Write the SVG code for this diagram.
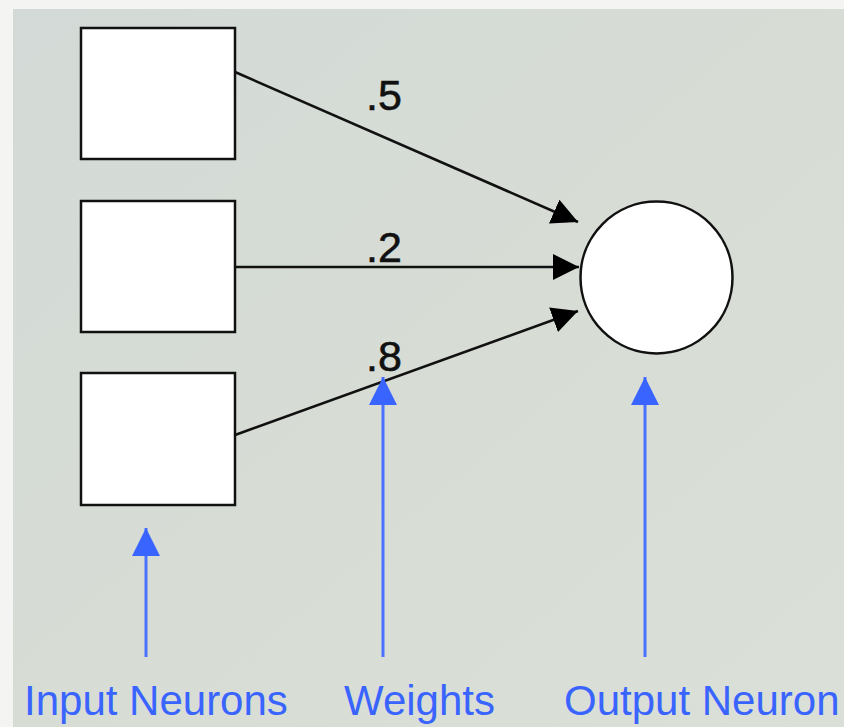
<svg xmlns="http://www.w3.org/2000/svg" width="844" height="727" viewBox="0 0 844 727">
  <defs>
    <linearGradient id="bg" x1="0" y1="0" x2="1" y2="1">
      <stop offset="0" stop-color="#d3d9d6"/>
      <stop offset="0.5" stop-color="#d7ddd5"/>
      <stop offset="1" stop-color="#dadfd8"/>
    </linearGradient>
    <marker id="head" viewBox="0 0 26 26" refX="26" refY="13" markerWidth="26" markerHeight="26" markerUnits="userSpaceOnUse" orient="auto">
      <path d="M0,0 L26,13 L0,26 Z" fill="#000"/>
    </marker>
    <marker id="bluehead" viewBox="0 0 28 28" refX="28" refY="14" markerWidth="28" markerHeight="28" markerUnits="userSpaceOnUse" orient="auto">
      <path d="M0,0 L28,14 L0,28 Z" fill="#3a64ff"/>
    </marker>
  </defs>
  <style>
    .neuron { fill: #ffffff; stroke: #111; stroke-width: 2.5; }
    .edge { stroke: #111; stroke-width: 2.6; fill: none; marker-end: url(#head); }
    .pointer { stroke: #4a72ff; stroke-width: 3; fill: none; marker-end: url(#bluehead); }
    .weight { font-family: "Liberation Sans", Arial, sans-serif; font-size: 43px; fill: #111; stroke: #111; stroke-width: 0.6; }
    .caption { font-family: "Liberation Sans", Arial, sans-serif; font-size: 42px; fill: #3a64ff; }
  </style>

  <!-- page and panel background -->
  <rect x="0" y="0" width="844" height="727" fill="#f4f4f2"/>
  <rect x="13" y="9" width="831" height="718" fill="url(#bg)"/>

  <!-- input layer -->
  <g id="input1"><rect class="neuron" x="81" y="28" width="154" height="131"/></g>
  <g id="input2"><rect class="neuron" x="81" y="201" width="154" height="131"/></g>
  <g id="input3"><rect class="neuron" x="81" y="373" width="154" height="132"/></g>

  <!-- output layer -->
  <g id="output"><circle class="neuron" cx="656.5" cy="277.5" r="76"/></g>

  <!-- weighted connections -->
  <g id="connectors">
    <line class="edge" x1="235" y1="72" x2="578" y2="222"/>
    <line class="edge" x1="235" y1="267" x2="579" y2="267"/>
    <line class="edge" x1="235" y1="435" x2="578" y2="311"/>
  </g>

  <!-- weight values -->
  <g id="weights">
    <text class="weight" x="366" y="110">.5</text>
    <text class="weight" x="366" y="262">.2</text>
    <text class="weight" x="366" y="371">.8</text>
  </g>

  <!-- annotation pointers -->
  <g id="pointers">
    <line class="pointer" x1="146" y1="657" x2="146" y2="528"/>
    <line class="pointer" x1="383" y1="657" x2="383" y2="377"/>
    <line class="pointer" x1="645" y1="657" x2="645" y2="377"/>
  </g>

  <!-- captions -->
  <g id="captions">
    <text class="caption" x="24" y="715">Input Neurons</text>
    <text class="caption" x="344" y="715">Weights</text>
    <text class="caption" x="564" y="715">Output Neuron</text>
  </g>
</svg>
